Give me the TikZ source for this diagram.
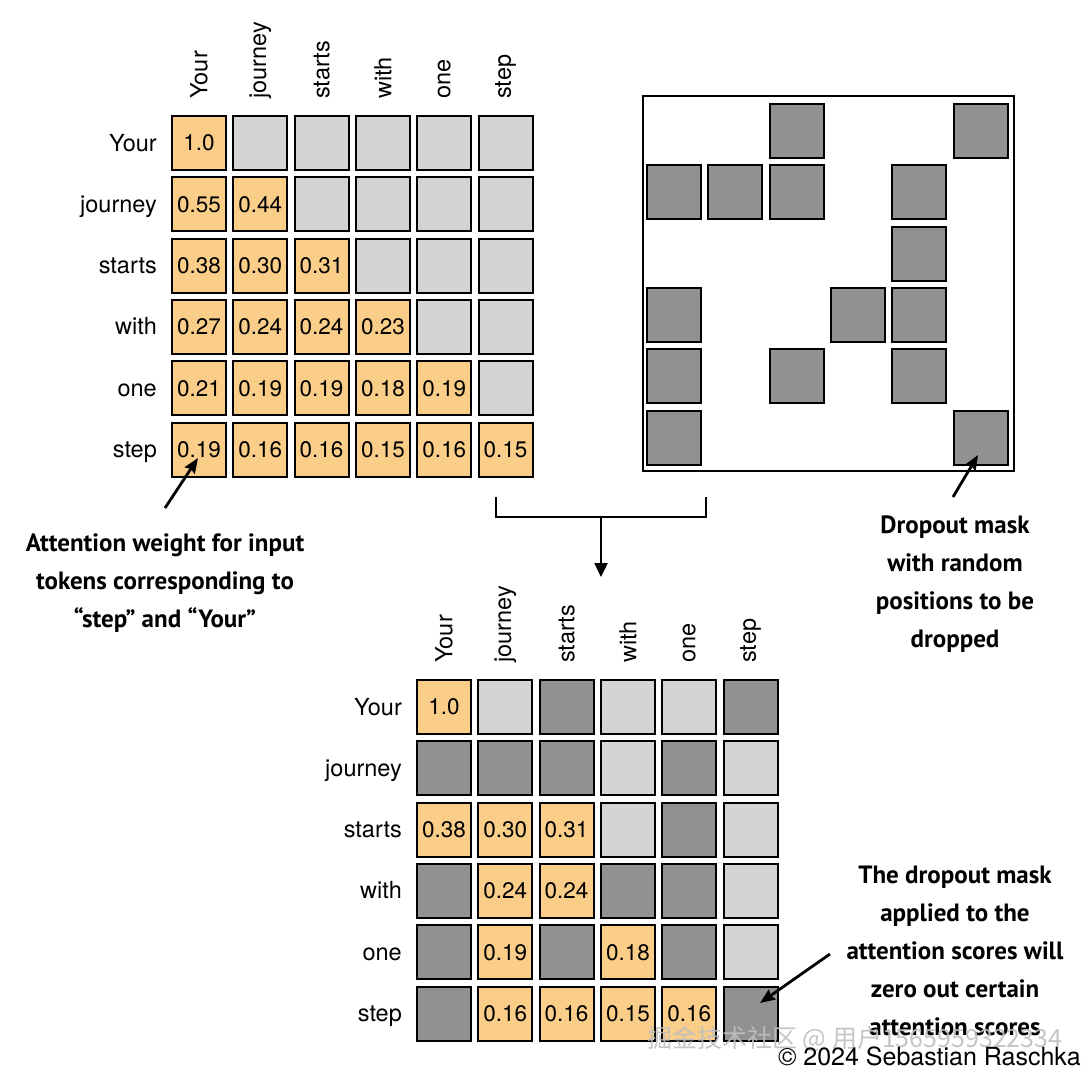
\documentclass[tikz,border=0pt]{standalone}
\usepackage{fontspec}
\setmainfont{TeX Gyre Heros}
\newfontfamily\annfont{PT Sans}
\newfontfamily\cjkfont{Noto Sans CJK SC}
\usetikzlibrary{arrows.meta}
\definecolor{wcell}{RGB}{250,206,137}
\definecolor{lcell}{RGB}{212,212,212}
\definecolor{dcell}{RGB}{145,145,145}
\begin{document}
\begin{tikzpicture}[x=1pt,y=-1pt,
  cell/.style={draw=black,line width=2pt,minimum size=54pt,inner sep=0pt,outer sep=0pt,
    font=\fontsize{22.5}{24}\selectfont},
  wc/.style={cell,fill=wcell},
  lc/.style={cell,fill=lcell},
  dc/.style={cell,fill=dcell},
  rowlab/.style={anchor=base east,inner sep=0pt,font=\fontsize{23.5}{26}\selectfont},
  collab/.style={rotate=90,anchor=west,inner sep=0pt,font=\fontsize{23.5}{26}\selectfont},
  ann/.style={align=center,inner sep=0pt,font=\annfont\bfseries\fontsize{25}{38}\selectfont},
  annarrow/.style={line width=2.8pt,-{Stealth[length=15pt,width=12pt,inset=2pt]}},
  bracket/.style={line width=2.6pt},
  flowarrow/.style={line width=2.4pt,-{Triangle[length=14pt,width=13pt]}}
]
\useasboundingbox (0,0) rectangle (1092,1080);
\fill[white] (0,0) rectangle (1092,1080);

% ---------- top-left matrix (attention weights) ----------
\foreach \c/\t in {1/Your,2/journey,3/starts,4/with,5/one,6/step}{
  \node[collab] (ca-\c) at ({199+(\c-1)*61.3},99) {\t};
  \node[rowlab] (ra-\c) at (157,{151+(\c-1)*61.3}) {\t};
}
\foreach \r/\c/\t in {1/1/1.0,
  2/1/0.55,2/2/0.44,
  3/1/0.38,3/2/0.30,3/3/0.31,
  4/1/0.27,4/2/0.24,4/3/0.24,4/4/0.23,
  5/1/0.21,5/2/0.19,5/3/0.19,5/4/0.18,5/5/0.19,
  6/1/0.19,6/2/0.16,6/3/0.16,6/4/0.15,6/5/0.16,6/6/0.15}{
  \node[wc] (A-\r-\c) at ({199+(\c-1)*61.3},{143+(\r-1)*61.3}) {\t};
}
\foreach \r/\c in {1/2,1/3,1/4,1/5,1/6,2/3,2/4,2/5,2/6,3/4,3/5,3/6,4/5,4/6,5/6}{
  \node[lc] (A-\r-\c) at ({199+(\c-1)*61.3},{143+(\r-1)*61.3}) {};
}

% ---------- dropout mask ----------
\node[draw=black,line width=2pt,minimum width=371pt,minimum height=375pt,inner sep=0pt,anchor=north west]
  (mask) at (642,95) {};
\foreach \r/\c in {1/3,1/6,2/1,2/2,2/3,2/5,3/5,4/1,4/4,4/5,5/1,5/3,5/5,6/1,6/6}{
  \node[dc] (M-\r-\c) at ({674+(\c-1)*61.3},{131+(\r-1)*61.3}) {};
}

% ---------- bottom matrix (after dropout) ----------
\foreach \c/\t in {1/Your,2/journey,3/starts,4/with,5/one,6/step}{
  \node[collab] (cb-\c) at ({444+(\c-1)*61.3},663) {\t};
  \node[rowlab] (rb-\c) at (402,{715+(\c-1)*61.3}) {\t};
}
\foreach \r/\c/\t in {1/1/1.0,
  3/1/0.38,3/2/0.30,3/3/0.31,
  4/2/0.24,4/3/0.24,
  5/2/0.19,5/4/0.18,
  6/2/0.16,6/3/0.16,6/4/0.15,6/5/0.16}{
  \node[wc] (B-\r-\c) at ({444+(\c-1)*61.3},{707+(\r-1)*61.3}) {\t};
}
\foreach \r/\c in {1/2,1/4,1/5,2/4,2/6,3/4,3/6,4/6,5/6}{
  \node[lc] (B-\r-\c) at ({444+(\c-1)*61.3},{707+(\r-1)*61.3}) {};
}
\foreach \r/\c in {1/3,1/6,2/1,2/2,2/3,2/5,3/5,4/1,4/4,4/5,5/1,5/3,5/5,6/1,6/6}{
  \node[dc] (B-\r-\c) at ({444+(\c-1)*61.3},{707+(\r-1)*61.3}) {};
}

% ---------- bracket and flow arrow ----------
\coordinate (brL) at (496,497);
\coordinate (brR) at (706,497);
\coordinate (brM) at (601,517);
\coordinate (brT) at (601,577);
\draw[bracket] (brL) |- (brR |- brM) -- (brR);
\draw[flowarrow] (brM) -- (brT);

% ---------- annotations ----------
\node[ann] (annA) at (165,583) {Attention weight for input\\tokens corresponding to\\“step” and “Your”};
\coordinate (annAtail) at (165,508);
\coordinate (annAtip) at (198,458);
\draw[annarrow] (annAtail) -- (annAtip);

\node[ann] (annM) at (955,584) {Dropout mask\\with random\\positions to be\\dropped};
\coordinate (annMtail) at (953,497);
\coordinate (annMtip) at (978,455);
\draw[annarrow] (annMtail) -- (annMtip);

\node[ann] (annB) at (955,951) {The dropout mask\\applied to the\\attention scores will\\zero out certain\\attention scores};
\coordinate (annBtail) at (830,954);
\coordinate (annBtip) at (760,1003);
\draw[annarrow] (annBtail) -- (annBtip);

% ---------- watermark and credit ----------
\node[anchor=base west,inner sep=0pt,text=gray!50,opacity=0.9,font=\cjkfont\fontsize{25}{28}\selectfont]
  (wm) at (647,1047) {掘金技术社区 @ 用户1565959322334};
\node[anchor=base east,inner sep=0pt,font=\fontsize{25}{28}\selectfont]
  (credit) at (1081,1065) {© 2024 Sebastian Raschka};
\end{tikzpicture}
\end{document}
